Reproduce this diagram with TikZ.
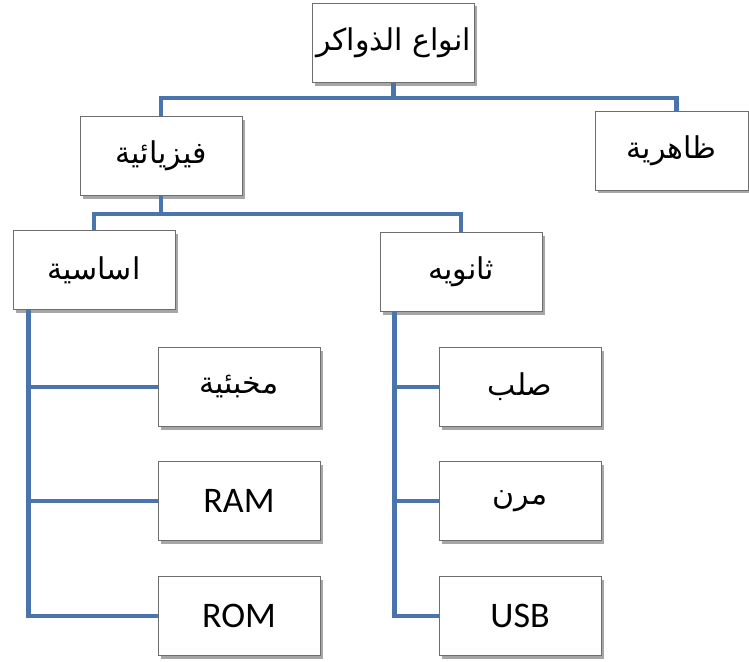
\documentclass[tikz,border=0pt]{standalone}
\usepackage{fontspec}
\TeXXeTstate=1
\newfontfamily\arabicfont[Script=Arabic]{DejaVu Sans}
\newfontfamily\latinfont{Carlito}
\usetikzlibrary{shadows}
\definecolor{linkblue}{HTML}{4A74AC}
\definecolor{boxedge}{HTML}{6E6E6E}
\tikzset{
  box/.style={draw=boxedge, line width=0.8pt, fill=white, minimum width=162pt, minimum height=79pt, inner sep=0pt,
    drop shadow={shadow xshift=2.5pt, shadow yshift=-3pt, opacity=0.35, fill=black}},
  ar/.style={font=\arabicfont\fontsize{30}{36}\selectfont},
  la/.style={font=\latinfont\fontsize{36}{42}\selectfont},
  conn/.style={draw=linkblue, line width=4.5pt}
}
\begin{document}
\begin{tikzpicture}[x=1pt,y=-1pt]
\useasboundingbox (0,0) rectangle (749,661);
% boxes
\node[box, ar] (top) at (393.5,43) {\beginR انواع الذواكر\endR};
\node[box, ar] (fiz) at (161,156) {\beginR فيزيائية\endR};
\node[box, ar, minimum width=153pt] (zah) at (671.5,150.5) {\beginR ظاهرية\endR};
\node[box, ar] (asas) at (94,270) {\beginR اساسية\endR};
\node[box, ar] (than) at (461,272) {\beginR ثانويه\endR};
\node[box, ar] (cache) at (239,387) {\beginR مخبئية\endR};
\node[box, la] (ram) at (239,501) {RAM};
\node[box, la] (rom) at (239,616) {ROM};
\node[box, ar] (hard) at (520,387) {\beginR صلب\endR};
\node[box, ar] (flex) at (520,501) {\beginR مرن\endR};
\node[box, la] (usb) at (520,616) {USB};
% connectors
\begin{scope}[on background layer/.style={}]
\coordinate (j1) at (393.5,98);
\draw[conn] (top.south) -- (top.south |- j1) -| (fiz.north);
\draw[conn] (top.south |- j1) -| ([xshift=5pt]zah.north);
\coordinate (j2) at (161,214);
\draw[conn] (fiz.south) -- (fiz.south |- j2) -| (asas.north);
\draw[conn] (fiz.south |- j2) -| (than.north);
\coordinate (a0) at ([xshift=16pt]asas.south west);
\draw[conn] (a0) |- (rom.west);
\draw[conn] (a0 |- cache.west) -- (cache.west);
\draw[conn] (a0 |- ram.west) -- (ram.west);
\coordinate (t0) at ([xshift=15pt]than.south west);
\draw[conn] (t0) |- (usb.west);
\draw[conn] (t0 |- hard.west) -- (hard.west);
\draw[conn] (t0 |- flex.west) -- (flex.west);
\end{scope}
\end{tikzpicture}
\end{document}
